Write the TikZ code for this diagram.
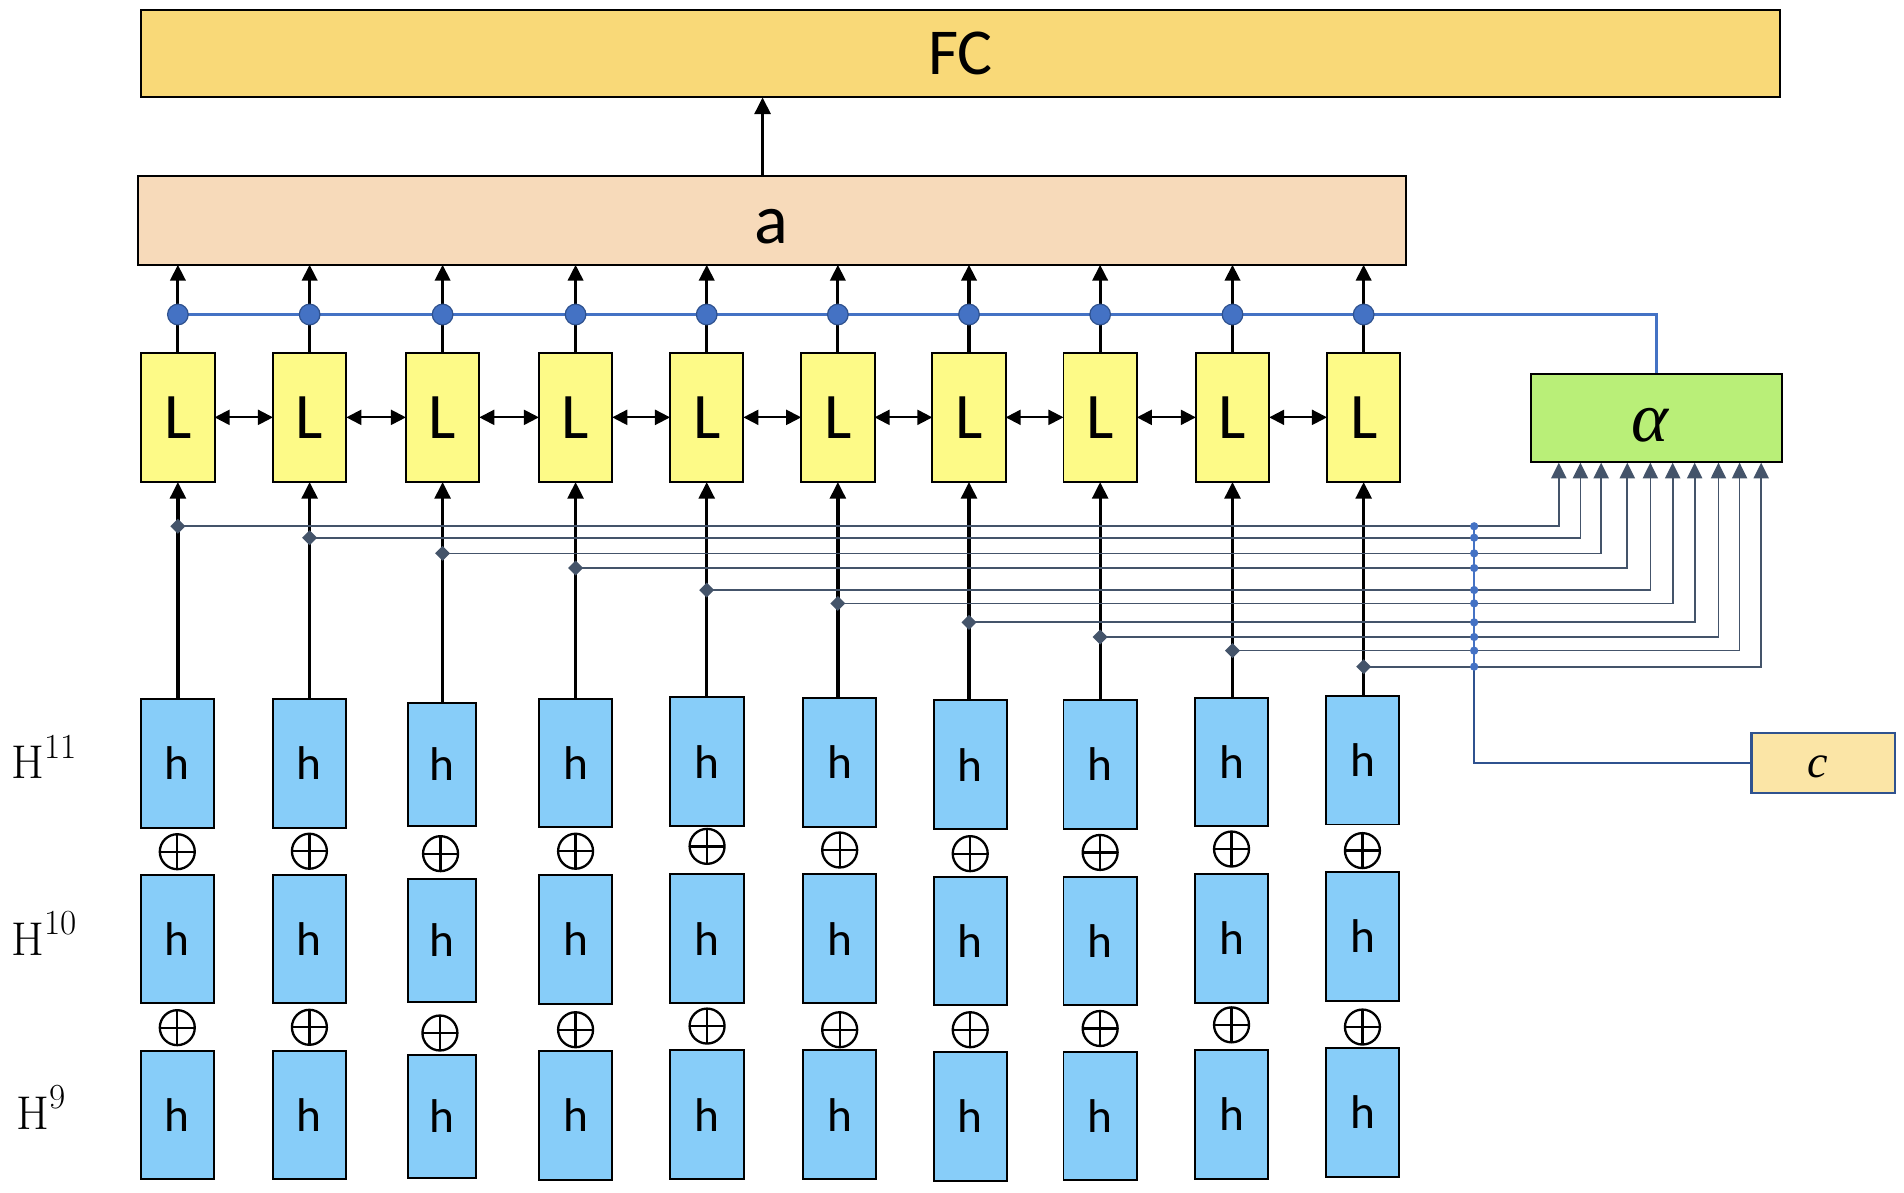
\documentclass[tikz,border=0pt]{standalone}
\usepackage{fontspec}
\newfontfamily\carl{Carlito}
\newfontfamily\grk{Liberation Serif}
\usetikzlibrary{arrows.meta,shapes.geometric}
\definecolor{fcfill}{RGB}{249,217,120}
\definecolor{afill}{RGB}{247,218,186}
\definecolor{lfill}{RGB}{253,250,135}
\definecolor{hfill}{RGB}{135,205,249}
\definecolor{alfill}{RGB}{185,239,120}
\definecolor{cfill}{RGB}{251,229,166}
\definecolor{bl}{RGB}{68,114,196}
\definecolor{dbl}{RGB}{47,82,143}
\definecolor{gb}{RGB}{68,84,106}
\pgfdeclarelayer{bg}
\pgfsetlayers{bg,main}
\newcommand{\Hlab}[1]{H\raisebox{0.44em}{\fontsize{29}{32}\selectfont #1}}
\begin{document}
\begin{tikzpicture}[x=1pt,y=-1pt,
  box/.style={draw=black, line width=1.6pt, inner sep=0pt, outer sep=0pt},
  fcbox/.style={box, fill=fcfill, minimum width=1350pt, minimum height=72pt, font=\carl\fontsize{54}{60}\selectfont},
  abox/.style={box, fill=afill, minimum width=1044pt, minimum height=73.3pt},
  lbox/.style={box, fill=lfill, minimum width=60.4pt, minimum height=106.5pt, font=\carl\fontsize{53.5}{60}\selectfont},
  hbox/.style={box, fill=hfill, minimum width=60.4pt, minimum height=106pt, font=\carl\fontsize{39}{46}\selectfont},
  hboxn/.style={box, fill=hfill, minimum width=56.3pt, minimum height=101.5pt, font=\carl\fontsize{39}{46}\selectfont},
  albox/.style={box, fill=alfill, minimum width=207pt, minimum height=72.7pt},
  cbox/.style={draw=dbl, line width=2.2pt, fill=cfill, inner sep=0pt, minimum width=118pt, minimum height=49.3pt},
  txt/.style={inner sep=0pt},
  bigdot/.style={circle, fill=bl, draw=dbl, line width=1pt, minimum size=17pt, inner sep=0pt},
  smalldot/.style={circle, fill=bl, minimum size=6.8pt, inner sep=0pt},
  diam/.style={diamond, fill=gb, minimum size=12.5pt, inner sep=0pt},
  oplus/.style={circle, draw=black, line width=1.9pt, minimum size=28.8pt, inner sep=0pt,
    path picture={\draw[line width=1.9pt] (path picture bounding box.north) -- (path picture bounding box.south)
      (path picture bounding box.west) -- (path picture bounding box.east);}},
  uparr/.style={draw=black, line width=2.7pt, -{Triangle[length=13.7pt,width=13pt]}},
  toa/.style={draw=black, line width=2.5pt, -{Triangle[length=13pt,width=12.5pt]}},
  twoway/.style={draw=black, line width=1.7pt, {Triangle[length=12.4pt,width=12.4pt]}-{Triangle[length=12.4pt,width=12.4pt]}},
  blueline/.style={draw=bl, line width=2.2pt},
  grayarr/.style={draw=gb, line width=1.4pt, -{Triangle[length=13pt,width=12.5pt]}},
  cline/.style={draw=dbl, line width=1.5pt},
  hlabel/.style={anchor=base west, inner sep=0pt, font=\fontsize{39}{44}\selectfont}
]
\useasboundingbox (0,0) rectangle (1568,982);

% top boxes
\node[fcbox] (fc) at (791,44.2) {FC};
\node[abox] (a) at (635.85,181.4) {};
\node[txt, font=\carl\fontsize{58}{64}\selectfont] (atext) at (635.5,186.5) {a};
\coordinate (fa) at (628,144.7);

% alpha and c
\node[albox] (al) at (1364.1,344.35) {};
\node[txt, font=\grk\itshape\fontsize{58}{64}\selectfont] (altext) at (1358.5,350) {α};
\node[cbox] (c) at (1501.6,628.35) {};
\node[txt, font=\grk\itshape\fontsize{38}{44}\selectfont] (ctext) at (1497,631.5) {c};

% L boxes, big dots, diamonds, small dots
\foreach \i/\lx/\dy in {1/146.5/433.4, 2/255/442.8, 3/364.5/455.7, 4/474/467.8, 5/582/485.9,
    6/690/496.9, 7/798/512.5, 8/906/524.6, 9/1015/535.8, 10/1123/549}{
  \node[lbox] (L\i) at (\lx,343.7) {L};
  \node[bigdot] (p\i) at (\lx,259) {};
  \node[diam] (d\i) at (\lx,\dy) {};
  \node[smalldot] (q\i) at (1214,\dy) {};
}

% h boxes and oplus
\foreach \i/\cx/\ya/\yb/\yc/\oa/\ob in {1/146/628.5/773.3/918.3/701.4/846.3, 2/254.8/628.5/773.3/918.3/701/846,
    4/474/628.3/773.5/918.5/701/848, 5/582.3/627.3/773/918/697/845, 6/691.5/627.8/773/918/700/848,
    7/799/629.8/775/919.5/703/848, 8/906/629.5/775/919/702/847, 9/1014.2/627.5/772.8/917.7/699.2/844,
    10/1122/626/771.2/916/700.5/845.8}{
  \node[hbox] (ha\i) at (\cx,\ya) {h};
  \node[hbox] (hb\i) at (\cx,\yb) {h};
  \node[hbox] (hc\i) at (\cx,\yc) {h};
  \node[oplus] (oa\i) at (\cx,\oa) {};
  \node[oplus] (ob\i) at (\cx,\ob) {};
}
\node[hboxn] (ha3) at (363.9,629.5) {h};
\node[hboxn] (hb3) at (363.9,774.5) {h};
\node[hboxn] (hc3) at (363.9,919.3) {h};
\node[oplus] (oa3) at (362.8,703) {};
\node[oplus] (ob3) at (362.3,850.7) {};

% row labels
\node[hlabel] (H11) at (9.6,641.5) {\Hlab{11}};
\node[hlabel] (H10) at (9.6,787) {\Hlab{10}};
\node[hlabel] (H9) at (13.7,930) {\Hlab{9}};

% targets on alpha bottom
\foreach \i/\ax in {1/1283.7, 2/1301.5, 3/1318.6, 4/1340.1, 5/1359.1, 6/1377.5, 7/1395.6, 8/1415.2, 9/1432.6, 10/1450.4}{
  \coordinate (t\i) at (\ax,381);
}

\begin{pgfonlayer}{bg}
  \draw[uparr] (fa) -- (fa |- fc.south);
  \foreach \i in {1,...,10}{
    \draw[toa] (L\i.north) -- (L\i.north |- a.south);
    \draw[uparr] (L\i.south |- ha\i.north) -- (L\i.south);
  }
  \foreach \i [evaluate=\i as \j using int(\i+1)] in {1,...,9}{
    \draw[twoway] (L\i.east) -- (L\j.west);
  }
  \draw[blueline] (p1.center) -- (al.north |- p1.center) -- (al.north);
  \foreach \i in {1,...,10}{
    \draw[grayarr] (d\i.center) -- (d\i.center -| t\i) -- (t\i);
  }
  \draw[draw=bl, line width=1.4pt] (q1.center) -- (q10.center);
  \draw[cline] (q10.center) -- (q10.center |- c.west) -- (c.west);
\end{pgfonlayer}
\end{tikzpicture}
\end{document}
